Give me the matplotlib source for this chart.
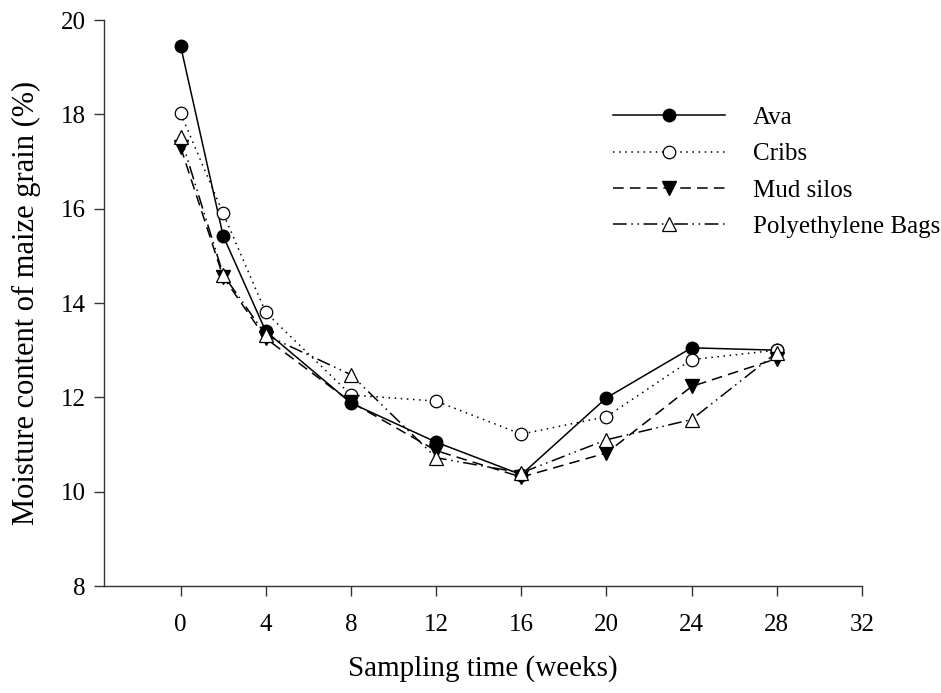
import numpy as np
import matplotlib
matplotlib.use("Agg")
import matplotlib.pyplot as plt

plt.rcParams['font.family'] = ['Liberation Serif', 'DejaVu Serif']

# Data
weeks = [0, 2, 4, 8, 12, 16, 20, 24, 28]
ava = [19.45, 15.42, 13.40, 11.88, 11.05, 10.36, 11.99, 13.05, 13.00]
cribs = [18.02, 15.90, 13.80, 12.05, 11.92, 11.22, 11.59, 12.80, 13.00]
mud_silos = [17.30, 14.55, 13.25, 11.90, 10.87, 10.31, 10.82, 12.23, 12.82]
poly_bags = [17.52, 14.60, 13.32, 12.48, 10.72, 10.40, 11.10, 11.53, 12.95]

fig = plt.figure(figsize=(9.41, 6.93), dpi=100)
ax = fig.add_axes([0.1105, 0.1544, 0.8055, 0.8167])

lw = 1.1
ms = 9
ax.plot(weeks, ava, color='black', linestyle='-', linewidth=lw,
        marker='o', markersize=ms, markerfacecolor='black', label='Ava')
ax.plot(weeks, cribs, color='black', linestyle=(0, (1, 3)), linewidth=lw,
        marker='o', markersize=ms, markerfacecolor='white', markeredgewidth=0.9,
        label='Cribs')
ax.plot(weeks, mud_silos, color='black', linestyle=(0, (7, 4)), linewidth=lw,
        marker='v', markersize=ms + 1, markerfacecolor='black', label='Mud silos')
ax.plot(weeks, poly_bags, color='black', linestyle=(0, (9, 3, 1, 3, 1, 3)),
        linewidth=lw, marker='^', markersize=ms + 1, markerfacecolor='white',
        markeredgewidth=0.9, label='Polyethylene Bags')

ax.set_xlim(-3.6, 32)
ax.set_ylim(8, 20)
ax.set_xticks(np.arange(0, 33, 4))
ax.set_yticks(np.arange(8, 21, 2))

ax.spines['top'].set_visible(False)
ax.spines['right'].set_visible(False)
for s in ['left', 'bottom']:
    ax.spines[s].set_linewidth(1.0)
    ax.spines[s].set_color('#333333')
ax.tick_params(direction='out', length=7, width=1.0, labelsize=18, color='#333333')
ax.tick_params(axis='x', pad=13)
ax.tick_params(axis='y', pad=6)

ax.set_xlabel('Sampling time (weeks)', fontsize=21, labelpad=14)
ax.set_ylabel('Moisture content of maize grain (%)', fontsize=22, labelpad=14)

ax.legend(loc='upper left', bbox_to_anchor=(0.6715, 0.847), frameon=False,
          fontsize=18, handlelength=4.5, handletextpad=1.1, labelspacing=0.55,
          borderaxespad=0, borderpad=0)

fig.savefig('out.png', dpi=100)
